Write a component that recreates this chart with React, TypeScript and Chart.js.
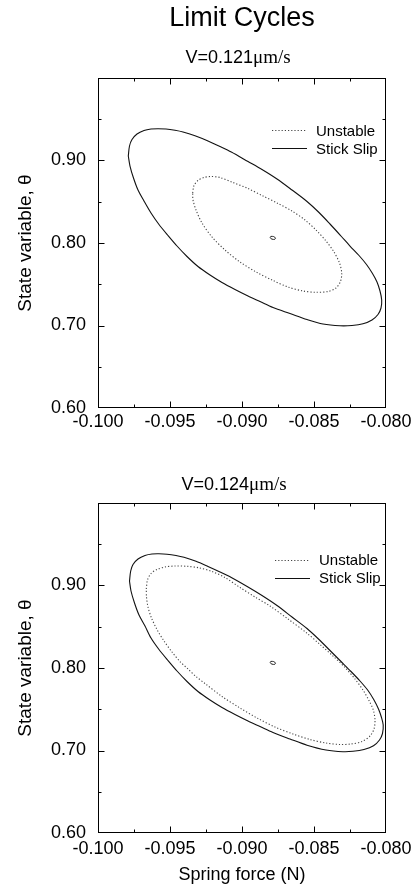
import React, { useEffect, useRef } from "react";
import { Chart, registerables } from "chart.js";

Chart.register(...registerables);

const SANS = "'Liberation Sans', Arial, Helvetica, sans-serif";
const SERIF = "'Liberation Serif', 'Times New Roman', serif";

// ---------- text ----------
const figureTitle = "Limit Cycles";
const panelVelocities = ["0.121", "0.124"];
const velocityUnit = "μm/s";
const seriesNames = ["Unstable", "Stick Slip"];
const xAxisTitle = "Spring force (N)";
const yAxisTitle = "State variable, θ";

// ---------- axes ----------
const xMin = -0.1;
const xMax = -0.08;
const xStep = 0.0025;
const yMin = 0.6;
const yMax = 1.0;
const yStep = 0.05;
const xTickLabels = ["-0.100", "-0.095", "-0.090", "-0.085", "-0.080"];
const yTickLabels = ["0.60", "0.70", "0.80", "0.90"];

// ---------- panel 1 : V = 0.121 ----------
const topStickSlipForce = [
  -0.097896, -0.097813, -0.097639, -0.097292, -0.096806, -0.096319, -0.095833, -0.095278,
  -0.094653, -0.094097, -0.093264, -0.092361, -0.091528, -0.090743, -0.089583, -0.088611,
  -0.087569, -0.086528, -0.085486, -0.084653, -0.083889, -0.083125, -0.0825, -0.081875,
  -0.081354, -0.080938, -0.080625, -0.080417, -0.080299, -0.080347, -0.080556, -0.080972,
  -0.081597, -0.082361, -0.083194, -0.084375, -0.085486, -0.086667, -0.087847, -0.08875,
  -0.089583, -0.090486, -0.091389, -0.092222, -0.093056, -0.093819, -0.094514, -0.095139,
  -0.095764, -0.096319, -0.096806, -0.097222, -0.097535, -0.097778, -0.097896,
];
const topStickSlipTheta = [
  0.90545, 0.91758, 0.92545, 0.93212, 0.93636, 0.93818, 0.93855, 0.93818,
  0.93661, 0.93455, 0.92994, 0.92364, 0.91697, 0.9103, 0.89879, 0.88909,
  0.87758, 0.86424, 0.8503, 0.83697, 0.82303, 0.80848, 0.79636, 0.78485,
  0.77394, 0.76303, 0.75273, 0.74182, 0.73091, 0.72121, 0.71333, 0.70667,
  0.70206, 0.7, 0.69964, 0.70182, 0.70727, 0.71455, 0.72182, 0.72909,
  0.73576, 0.74364, 0.75212, 0.76121, 0.77152, 0.78364, 0.79636, 0.80909,
  0.82242, 0.83636, 0.85091, 0.86424, 0.87879, 0.89333, 0.90545,
];
const topUnstableForce = [
  -0.093424, -0.093333, -0.093056, -0.092639, -0.092153, -0.091528, -0.090625, -0.089583,
  -0.088542, -0.0875, -0.086528, -0.085625, -0.084861, -0.084167, -0.083611, -0.083229,
  -0.083076, -0.08316, -0.083472, -0.084028, -0.084861, -0.085764, -0.086806, -0.087847,
  -0.088958, -0.090139, -0.091181, -0.092083, -0.092778, -0.093194, -0.093403, -0.093424,
];
const topUnstableTheta = [
  0.86061, 0.8697, 0.87576, 0.87939, 0.88061, 0.87939, 0.87333, 0.86606,
  0.85697, 0.84788, 0.83879, 0.82788, 0.81576, 0.80242, 0.78909, 0.77576,
  0.76364, 0.75333, 0.74545, 0.74121, 0.74024, 0.74182, 0.74667, 0.75455,
  0.76424, 0.77697, 0.79152, 0.80727, 0.82424, 0.84, 0.85212, 0.86061,
];
const topFixedForce = [-0.088, -0.0878, -0.08768, -0.08772, -0.08792, -0.08804, -0.088];
const topFixedTheta = [0.808, 0.8078, 0.806, 0.8045, 0.8047, 0.8063, 0.808];

// ---------- panel 2 : V = 0.124 ----------
const bottomStickSlipForce = [
  -0.097813, -0.097729, -0.097569, -0.097222, -0.096736, -0.09625, -0.095764, -0.095208,
  -0.094583, -0.094028, -0.093194, -0.092361, -0.091528, -0.090743, -0.089583, -0.088611,
  -0.087569, -0.086528, -0.085486, -0.084653, -0.083889, -0.083125, -0.082431, -0.081806,
  -0.08125, -0.080833, -0.080521, -0.080313, -0.080194, -0.080243, -0.080451, -0.080868,
  -0.081528, -0.082292, -0.082986, -0.084167, -0.085486, -0.086667, -0.087847, -0.08875,
  -0.089583, -0.090486, -0.091389, -0.092222, -0.093056, -0.093819, -0.094514, -0.095139,
  -0.095764, -0.096319, -0.096736, -0.097153, -0.097465, -0.097708, -0.097813,
];
const bottomStickSlipTheta = [
  0.90545, 0.91758, 0.92545, 0.93212, 0.93636, 0.93818, 0.93842, 0.93794,
  0.93636, 0.93418, 0.92933, 0.92303, 0.91636, 0.9097, 0.89818, 0.88788,
  0.87576, 0.86182, 0.84788, 0.83455, 0.82121, 0.80788, 0.79576, 0.78424,
  0.77273, 0.76121, 0.7503, 0.74, 0.73091, 0.72061, 0.71273, 0.7057,
  0.70121, 0.69903, 0.69855, 0.70061, 0.70642, 0.71394, 0.72182, 0.72909,
  0.73576, 0.74364, 0.75212, 0.76121, 0.77152, 0.78364, 0.79636, 0.80909,
  0.82242, 0.83636, 0.85091, 0.86424, 0.87879, 0.89333, 0.90545,
];
const bottomUnstableForce = [
  -0.096646, -0.096563, -0.096319, -0.095903, -0.095347, -0.094653, -0.093819, -0.092986,
  -0.092083, -0.091181, -0.090139, -0.089097, -0.088056, -0.086806, -0.085507, -0.084583,
  -0.08366, -0.082847, -0.082153, -0.081597, -0.081181, -0.080882, -0.080764, -0.080833,
  -0.081111, -0.081667, -0.082431, -0.083194, -0.084167, -0.085278, -0.086458, -0.087708,
  -0.088889, -0.090139, -0.091389, -0.092569, -0.093194, -0.09375, -0.094306, -0.094861,
  -0.095417, -0.095903, -0.096285, -0.096528, -0.096632, -0.096646,
];
const bottomUnstableTheta = [
  0.89576, 0.90667, 0.91455, 0.91939, 0.92242, 0.92364, 0.92327, 0.92145,
  0.91697, 0.9097, 0.89758, 0.88606, 0.87515, 0.85939, 0.84242, 0.82848,
  0.81418, 0.80061, 0.78667, 0.77333, 0.76061, 0.74909, 0.73697, 0.72606,
  0.71758, 0.71091, 0.70788, 0.70727, 0.70909, 0.71333, 0.72, 0.72848,
  0.73879, 0.75152, 0.76545, 0.78121, 0.7897, 0.79879, 0.80788, 0.81939,
  0.83273, 0.84667, 0.86061, 0.87394, 0.88606, 0.89576,
];
const bottomFixedForce = [-0.088, -0.0878, -0.08768, -0.08772, -0.08792, -0.08804, -0.088];
const bottomFixedTheta = [0.808, 0.8078, 0.806, 0.8045, 0.8047, 0.8063, 0.808];

const pts = (xs: number[], ys: number[]) => xs.map((x, i) => ({ x, y: ys[i] }));

const decorPlugin = {
  id: "decor",
  afterDraw(chart: any, _args: any, opts: any) {
    const { ctx, chartArea: a } = chart;
    const xs = chart.scales.x;
    const ys = chart.scales.y;
    ctx.save();
    ctx.setLineDash([]);
    ctx.strokeStyle = "#000";
    ctx.lineWidth = 1;
    const L = Math.round(a.left) + 0.5;
    const R = Math.round(a.right) - 0.5;
    const T = Math.round(a.top) + 0.5;
    const B = Math.round(a.bottom) - 0.5;
    ctx.strokeRect(L, T, R - L, B - T);
    ctx.beginPath();
    xs.ticks.forEach((t: any) => {
      const px = Math.round(xs.getPixelForValue(t.value)) + 0.5;
      if (px <= L + 1 || px >= R - 1) return;
      const len = t.label ? 6 : 3;
      ctx.moveTo(px, B);
      ctx.lineTo(px, B - len);
      ctx.moveTo(px, T);
      ctx.lineTo(px, T + len);
    });
    ys.ticks.forEach((t: any) => {
      const py = Math.round(ys.getPixelForValue(t.value)) + 0.5;
      if (py <= T + 1 || py >= B - 1) return;
      const len = t.label ? 6 : 3;
      ctx.moveTo(L, py);
      ctx.lineTo(L + len, py);
      ctx.moveTo(R, py);
      ctx.lineTo(R - len, py);
    });
    ctx.stroke();

    ctx.fillStyle = "#000";
    ctx.textBaseline = "alphabetic";
    if (opts.title) {
      ctx.font = `27px ${SANS}`;
      ctx.textAlign = "center";
      ctx.fillText(opts.title, opts.titleX, opts.titleY);
    }
    if (opts.velocity) {
      const p1 = `V=${opts.velocity}`;
      ctx.font = `18px ${SANS}`;
      const w1 = ctx.measureText(p1).width;
      ctx.font = `19px ${SERIF}`;
      const w2 = ctx.measureText(velocityUnit).width;
      const x0 = opts.subX - (w1 + w2) / 2;
      ctx.textAlign = "left";
      ctx.font = `18px ${SANS}`;
      ctx.fillText(p1, x0, opts.subY);
      ctx.font = `19px ${SERIF}`;
      ctx.fillText(velocityUnit, x0 + w1, opts.subY);
    }
    const lg = opts.legend;
    if (lg) {
      ctx.font = `15px ${SANS}`;
      ctx.textAlign = "left";
      ctx.strokeStyle = "#444";
      ctx.lineWidth = 1.1;
      ctx.setLineDash([1.2, 2]);
      ctx.beginPath();
      ctx.moveTo(lg.x1, lg.lineY[0]);
      ctx.lineTo(lg.x2, lg.lineY[0]);
      ctx.stroke();
      ctx.fillText(seriesNames[0], lg.textX, lg.textY[0]);
      ctx.strokeStyle = "#111";
      ctx.lineWidth = 1.2;
      ctx.setLineDash([]);
      ctx.beginPath();
      ctx.moveTo(lg.x1, lg.lineY[1]);
      ctx.lineTo(lg.x2, lg.lineY[1]);
      ctx.stroke();
      ctx.fillText(seriesNames[1], lg.textX, lg.textY[1]);
    }
    ctx.restore();
  },
};

function makeConfig(p: any) {
  return {
    type: "scatter" as const,
    data: {
      datasets: [
        {
          label: seriesNames[0],
          data: p.unstable,
          showLine: true,
          borderColor: "#444",
          borderWidth: 1.1,
          borderDash: [1.2, 2],
          pointRadius: 0,
          tension: 0.3,
          fill: false,
        },
        {
          label: seriesNames[1],
          data: p.stick,
          showLine: true,
          borderColor: "#111",
          borderWidth: 1.1,
          pointRadius: 0,
          tension: 0.3,
          fill: false,
        },
        {
          label: "fixed point",
          data: p.fixed,
          showLine: true,
          borderColor: "#222",
          borderWidth: 1,
          pointRadius: 0,
          tension: 0.4,
          fill: false,
        },
      ],
    },
    options: {
      animation: false,
      responsive: false,
      devicePixelRatio: 1,
      layout: { padding: { left: 0, top: p.plotTop, right: 31, bottom: 0 } },
      plugins: {
        legend: { display: false },
        tooltip: { enabled: false },
        title: { display: false },
        decor: p.decor,
      },
      scales: {
        x: {
          type: "linear",
          min: xMin,
          max: xMax,
          grid: { display: false, drawTicks: false },
          border: { display: false },
          ticks: {
            stepSize: xStep,
            autoSkip: false,
            maxRotation: 0,
            minRotation: 0,
            padding: p.xPad,
            color: "#000",
            font: { family: SANS, size: 18 },
            callback: (v: number) => {
              const s = Number(v).toFixed(3);
              return xTickLabels.includes(s) ? s : "";
            },
          },
          title: {
            display: !!p.xTitle,
            text: xAxisTitle,
            color: "#000",
            font: { family: SANS, size: 18 },
            padding: { top: 0, bottom: 2 },
          },
          afterFit: (s: any) => {
            s.height = p.xHeight;
          },
        },
        y: {
          type: "linear",
          min: yMin,
          max: yMax,
          grid: { display: false, drawTicks: false },
          border: { display: false },
          ticks: {
            stepSize: yStep,
            autoSkip: false,
            padding: 12,
            color: "#000",
            font: { family: SANS, size: 18 },
            callback: (v: number) => {
              const s = Number(v).toFixed(2);
              return yTickLabels.includes(s) ? s : "";
            },
          },
          title: {
            display: true,
            text: yAxisTitle,
            color: "#000",
            font: { family: SANS, size: 19 },
            padding: { top: 14, bottom: 0 },
          },
          afterFit: (s: any) => {
            s.width = 98;
          },
        },
      },
    },
    plugins: [decorPlugin],
  };
}

export default function App() {
  const topRef = useRef<HTMLCanvasElement>(null);
  const botRef = useRef<HTMLCanvasElement>(null);

  useEffect(() => {
    const c1 = new Chart(
      topRef.current as HTMLCanvasElement,
      makeConfig({
        unstable: pts(topUnstableForce, topUnstableTheta),
        stick: pts(topStickSlipForce, topStickSlipTheta),
        fixed: pts(topFixedForce, topFixedTheta),
        plotTop: 78,
        xHeight: 32,
        xPad: 3,
        xTitle: false,
        decor: {
          title: figureTitle,
          titleX: 242,
          titleY: 26,
          velocity: panelVelocities[0],
          subX: 238,
          subY: 63,
          legend: { x1: 272, x2: 307, textX: 316, lineY: [130.5, 148.5], textY: [136, 154] },
        },
      }) as any
    );
    const c2 = new Chart(
      botRef.current as HTMLCanvasElement,
      makeConfig({
        unstable: pts(bottomUnstableForce, bottomUnstableTheta),
        stick: pts(bottomStickSlipForce, bottomStickSlipTheta),
        fixed: pts(bottomFixedForce, bottomFixedTheta),
        plotTop: 63,
        xHeight: 55,
        xPad: 5,
        xTitle: true,
        decor: {
          velocity: panelVelocities[1],
          subX: 234,
          subY: 50,
          legend: { x1: 275, x2: 310, textX: 319, lineY: [120.5, 138.5], textY: [125, 143] },
        },
      }) as any
    );
    return () => {
      c1.destroy();
      c2.destroy();
    };
  }, []);

  return (
    <div style={{ position: "absolute", left: 0, top: 0, width: 417, height: 888, background: "#fff" }}>
      <canvas ref={topRef} width={417} height={440} style={{ position: "absolute", left: 0, top: 0, display: "block" }} />
      <canvas ref={botRef} width={417} height={448} style={{ position: "absolute", left: 0, top: 440, display: "block" }} />
    </div>
  );
}
